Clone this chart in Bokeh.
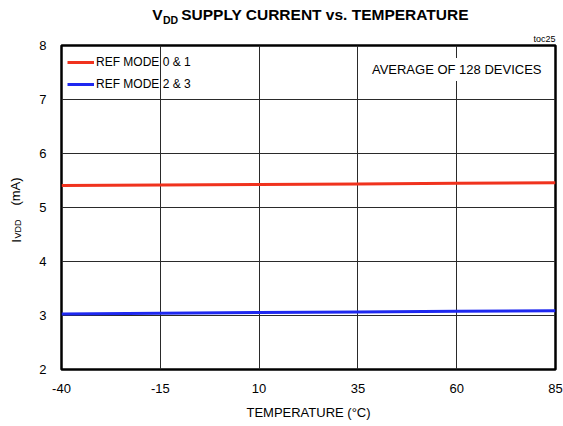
from bokeh.plotting import figure
from bokeh.models import Label, Legend, LegendItem, FixedTicker, Range1d, Title
from bokeh.layouts import column, row
from bokeh.embed import file_html
from bokeh.resources import INLINE

temps = [-40, -15, 10, 35, 60, 85]
ref01 = [5.407, 5.417, 5.427, 5.437, 5.447, 5.457]
ref23 = [3.03, 3.042, 3.054, 3.066, 3.078, 3.09]
x_ticks = [-40, -15, 10, 35, 60, 85]
x_tick_labels = ["-40", "-15", "10", "35", "60", "85"]
y_ticks = [2, 3, 4, 5, 6, 7, 8]

FONT = "Liberation Sans"
W, H = 563, 426
TOP_H = 30          # height of title strip
LEFT_W = 25         # width of y-label strip
L, R, T, B = 61, 8, 45, 57          # frame edges measured on the page
ANG = 1.5707963267948966


def blank(width, height, xr, yr):
    f = figure(width=width, height=height, output_backend="svg", toolbar_location=None,
               title=None, x_range=Range1d(*xr), y_range=Range1d(*yr),
               x_axis_location=None, y_axis_location=None,
               min_border_left=0, min_border_right=0, min_border_top=0, min_border_bottom=0)
    f.outline_line_color = None
    f.xgrid.visible = False
    f.ygrid.visible = False
    f.background_fill_color = "white"
    f.border_fill_color = "white"
    return f


def lab(f, x, y, text, size, bold=False, align="center", angle=0.0):
    f.add_layout(Label(x=x, y=y, text=text, text_font=FONT, text_font_size=size,
                       text_font_style="bold" if bold else "normal", text_color="black",
                       text_align=align, text_baseline="middle", angle=angle))


# ---- title strip (page pixel coordinates, y downward)
tf = blank(W, TOP_H, (0, W), (TOP_H, 0))
lab(tf, 157, 13.5, "V", "15.5px", bold=True)
lab(tf, 170, 19.5, "DD", "10.5px", bold=True)
lab(tf, 324.5, 13.5, "SUPPLY CURRENT vs. TEMPERATURE", "15.5px", bold=True)

# ---- y-label strip: its frame is aligned with the chart frame (page y 45..369)
lf = blank(LEFT_W, H - TOP_H, (0, LEFT_W), (H - B, T))
lab(lf, 15.6, 240.5, "I", "13px", angle=ANG)
lab(lf, 17.5, 228.5, "VDD", "9px", angle=ANG)
lab(lf, 15.3, 191, "(mA)", "13px", angle=ANG)

# ---- main chart
p = figure(width=W - LEFT_W, height=H - TOP_H, output_backend="svg", toolbar_location=None,
           title=None, x_range=Range1d(-40, 85), y_range=Range1d(2, 8),
           min_border_left=L - LEFT_W, min_border_right=R,
           min_border_top=T - TOP_H, min_border_bottom=B)
p.outline_line_color = "black"
p.outline_line_width = 2.5
p.background_fill_color = "white"
p.border_fill_color = "white"
p.add_layout(Title(text="toc25", align="right", text_font=FONT, text_font_size="9px",
                   text_font_style="normal", text_color="black", standoff=3), "above")

for ax in (p.xaxis[0], p.yaxis[0]):
    ax.axis_line_color = None
    ax.major_tick_line_color = None
    ax.minor_tick_line_color = None
    ax.major_tick_out = 0
    ax.major_tick_in = 0
    ax.minor_tick_out = 0
    ax.major_label_text_font = FONT
    ax.major_label_text_font_size = "13px"
    ax.major_label_text_color = "black"
p.xaxis.ticker = FixedTicker(ticks=x_ticks)
p.xaxis.major_label_overrides = {t: s for t, s in zip(x_ticks, x_tick_labels)}
p.yaxis.ticker = FixedTicker(ticks=y_ticks)
p.xaxis.major_label_standoff = 14
p.yaxis.major_label_standoff = 15
p.xaxis.axis_label = "TEMPERATURE (°C)"
p.xaxis.axis_label_text_font = FONT
p.xaxis.axis_label_text_font_style = "normal"
p.xaxis.axis_label_text_font_size = "13px"
p.xaxis.axis_label_text_color = "black"
p.xaxis.axis_label_standoff = 9
p.xgrid.ticker = FixedTicker(ticks=x_ticks)
p.ygrid.ticker = FixedTicker(ticks=y_ticks)
for g in (p.xgrid[0], p.ygrid[0]):
    g.grid_line_color = "#2a2a2a"
    g.grid_line_width = 1

r1 = p.line(temps, ref01, line_color="#f0321e", line_width=3)
r2 = p.line(temps, ref23, line_color="#1e28f0", line_width=3)

leg = Legend(items=[LegendItem(label="REF MODE 0 & 1", renderers=[r1]),
                    LegendItem(label="REF MODE 2 & 3", renderers=[r2])],
             location=(6, 277), border_line_color=None, background_fill_alpha=0,
             label_text_font=FONT, label_text_font_size="12px", label_text_color="black",
             glyph_width=27, glyph_height=16, spacing=6, padding=7, margin=0,
             label_standoff=2, label_height=16)
p.add_layout(leg, "center")

p.add_layout(Label(x=60, y=7.556, text="AVERAGE OF 128 DEVICES",
                   text_font=FONT, text_font_size="13px", text_color="black",
                   text_align="center", text_baseline="middle",
                   background_fill_color="white", padding=4))

layout = column(tf, row(lf, p, spacing=0), spacing=0)
open("out.html", "w").write(file_html(layout, INLINE))
